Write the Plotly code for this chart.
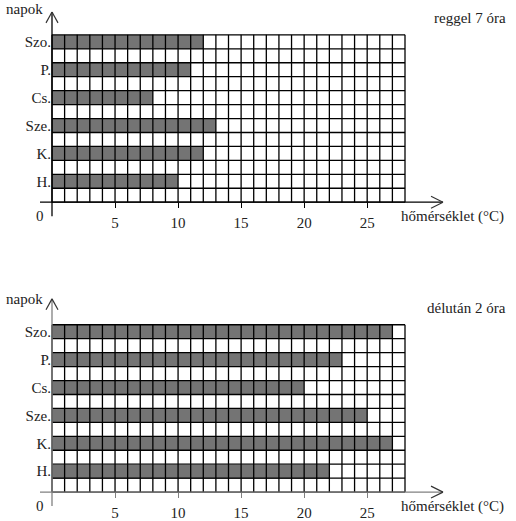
"""Napi hőmérséklet - két rácsos oszlopdiagram (reggel / délután)"""

import plotly.graph_objects as go

W, H = 516, 521

days: list[str] = ["Szo.", "P.", "Cs.", "Sze.", "K.", "H."]
morning_temps: list[int] = [12, 11, 8, 13, 12, 10]
afternoon_temps: list[int] = [27, 23, 20, 25, 27, 22]
x_ticks: list[int] = [5, 10, 15, 20, 25]

FONT = "'Liberation Serif', 'Times New Roman', Times, serif"
BAR_COLOR = "#747474"
N_COLS = 28
N_ROWS = 12

# pixel layout of the grid
X0_PX, X28_PX = 52, 405
UX = (X28_PX - X0_PX) / N_COLS  # px per degree
UY = 14  # px per row
ROW0_TOP, ROW0_BOT = 203, 494  # pixel y of the zero line in each panel


def px_x(px: float) -> float:
    return px / W


def px_y(py: float) -> float:
    return 1 - py / H


# row centres: first day on top, each bar row followed by an empty row
row_pos: list[float] = [N_ROWS - 0.5 - 2 * i for i in range(len(days))]

fig = go.Figure()

panels = [
    ("x", "y", morning_temps, ROW0_TOP, [0.5, 1.0], "reggel 7 óra", "black", 23),
    ("x2", "y2", afternoon_temps, ROW0_BOT, [0.0, 0.5], "délután 2 óra", "#808080", 26),
]

shapes: list[dict] = []
annotations: list[dict] = []
layout: dict = {}

for xa, ya, temps, row0, dom, label, axcol, arrow_px in panels:
    fig.add_trace(
        go.Bar(
            x=temps,
            y=row_pos,
            base=0,
            width=1,
            orientation="h",
            marker={"color": BAR_COLOR, "line": {"width": 0}},
            xaxis=xa,
            yaxis=ya,
            showlegend=False,
            hoverinfo="x+y",
        )
    )

    top_px = H * (1 - dom[1])
    bot_px = H * (1 - dom[0])
    y_range = [-(bot_px - row0) / UY, (row0 - top_px) / UY]
    x_range = [-X0_PX / UX, (W - X0_PX) / UX]

    xkey = "xaxis" if xa == "x" else "xaxis2"
    ykey = "yaxis" if ya == "y" else "yaxis2"
    layout[xkey] = {
        "domain": [0, 1],
        "range": x_range,
        "anchor": "free",
        "position": px_y(row0),
        "tickvals": x_ticks,
        "ticks": "outside",
        "ticklen": 5,
        "tickcolor": axcol,
        "ticklabelstandoff": 2,
        "showgrid": False,
        "zeroline": False,
        "showline": False,
        "tickfont": {"family": FONT, "size": 15, "color": "#222"},
        "fixedrange": True,
    }
    layout[ykey] = {
        "domain": dom,
        "range": y_range,
        "anchor": "free",
        "position": px_x(X0_PX - 1),
        "tickvals": row_pos,
        "ticktext": days,
        "ticks": "",
        "showgrid": False,
        "zeroline": False,
        "showline": False,
        "tickfont": {"family": FONT, "size": 15, "color": "#222"},
        "fixedrange": True,
    }

    # grid on top of the bars
    for i in range(N_COLS + 1):
        shapes.append(
            dict(type="line", xref=xa, yref=ya, x0=i, x1=i, y0=0, y1=N_ROWS,
                 line={"color": "black", "width": 1.3}, layer="above")
        )
    for j in range(N_ROWS + 1):
        shapes.append(
            dict(type="line", xref=xa, yref=ya, x0=0, x1=N_COLS, y0=j, y1=j,
                 line={"color": "black", "width": 1.3}, layer="above")
        )

    # axes with open arrow heads
    x_tip = (443 - X0_PX) / UX
    x_back = (431 - X0_PX) / UX
    y_tip = arrow_px / UY + N_ROWS
    y_back = (arrow_px - 11) / UY + N_ROWS
    axis_line = {"color": axcol, "width": 1.3}
    head_line = {"color": "#333", "width": 1.2}
    for seg, ln in [
        ((-12 / UX, 0, x_tip, 0), axis_line),
        ((x_back, 6 / UY, x_tip, 0), head_line),
        ((x_back, -6 / UY, x_tip, 0), head_line),
        ((0, -14 / UY, 0, y_tip), axis_line),
        ((-6 / UX, y_back, 0, y_tip), head_line),
        ((6 / UX, y_back, 0, y_tip), head_line),
    ]:
        shapes.append(
            dict(type="line", xref=xa, yref=ya, x0=seg[0], y0=seg[1],
                 x1=seg[2], y1=seg[3], line=ln, layer="above")
        )

    txt = {"family": FONT, "size": 15, "color": "#222"}
    annotations += [
        dict(text="napok", x=px_x(4), y=px_y(row0 - 194), xref="paper", yref="paper",
             xanchor="left", yanchor="middle", showarrow=False, font=txt),
        dict(text=label, x=px_x(508), y=px_y(row0 - 185), xref="paper", yref="paper",
             xanchor="right", yanchor="middle", showarrow=False, font=txt),
        dict(text="hőmérséklet (°C)", x=px_x(399), y=px_y(row0 + 14), xref="paper",
             yref="paper", xanchor="left", yanchor="middle", showarrow=False, font=txt),
        dict(text="0", x=px_x(40), y=px_y(row0 + 14), xref="paper", yref="paper",
             xanchor="center", yanchor="middle", showarrow=False, font=txt),
    ]

fig.update_layout(
    width=W,
    height=H,
    autosize=False,
    margin={"l": 0, "r": 0, "t": 0, "b": 0},
    paper_bgcolor="white",
    plot_bgcolor="white",
    bargap=0,
    shapes=shapes,
    annotations=annotations,
    **layout,
)

# page body has a default 8px margin; drop it so the figure fills the window
fig.write_html(
    "out.html",
    config={"displayModeBar": False},
    post_script="document.body.style.margin='0';document.body.style.overflow='hidden';",
)
